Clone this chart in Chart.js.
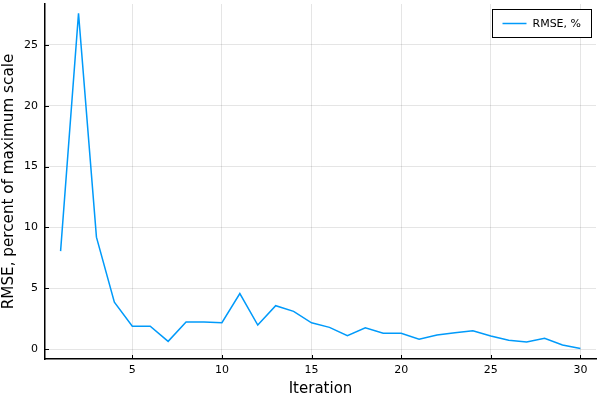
<!DOCTYPE html>
<html>
<head>
<meta charset="utf-8">
<script src="https://cdn.jsdelivr.net/npm/chart.js@4"></script>
<style>
  html, body { margin: 0; padding: 0; background: #fff; }
  #wrap { width: 600px; height: 400px; }
</style>
</head>
<body>
<div id="wrap"><canvas id="rmseChart" width="600" height="400"></canvas></div>
<script>
const iterations = [1, 2, 3, 4, 5, 6, 7, 8, 9, 10, 11, 12, 13, 14, 15,
  16, 17, 18, 19, 20, 21, 22, 23, 24, 25, 26, 27, 28, 29, 30];
const rmse = [8.05, 27.6, 9.2, 3.85, 1.88, 1.88, 0.63, 2.22, 2.22, 2.17, 4.56, 1.97, 3.56, 3.1, 2.16,
  1.78, 1.09, 1.75, 1.29, 1.29, 0.8, 1.15, 1.34, 1.51, 1.07, 0.72, 0.58, 0.88, 0.33, 0.05];
const xTicks = [5, 10, 15, 20, 25, 30];
const yTicks = [0, 5, 10, 15, 20, 25];
const seriesLabel = 'RMSE, %';

const FONT = 'DejaVu Sans';

// legend with a framed box, like the original
const boxLegend = {
  id: 'boxLegend',
  afterDraw(chart) {
    const ctx = chart.ctx;
    const ds = chart.data.datasets[0];
    const x = 492.5, y = 9.5, w = 99, h = 28;
    ctx.save();
    ctx.fillStyle = '#fff';
    ctx.fillRect(x, y, w, h);
    ctx.strokeStyle = '#000';
    ctx.lineWidth = 1;
    ctx.strokeRect(x, y, w, h);
    ctx.strokeStyle = ds.borderColor;
    ctx.lineWidth = 1.5;
    ctx.beginPath();
    ctx.moveTo(x + 10, y + h / 2);
    ctx.lineTo(x + 34, y + h / 2);
    ctx.stroke();
    ctx.fillStyle = '#000';
    ctx.font = '11px ' + FONT;
    ctx.textBaseline = 'middle';
    ctx.fillText(ds.label, x + 40, y + h / 2 + 0.5);
    ctx.restore();
  }
};

// small inward tick marks on the two axes
const innerTicks = {
  id: 'innerTicks',
  afterDatasetsDraw(chart) {
    const { ctx, chartArea, scales } = chart;
    ctx.save();
    ctx.strokeStyle = '#000';
    ctx.lineWidth = 1;
    ctx.beginPath();
    yTicks.forEach(v => {
      const py = Math.round(scales.y.getPixelForValue(v)) + 0.5;
      ctx.moveTo(chartArea.left, py);
      ctx.lineTo(chartArea.left + 4, py);
    });
    xTicks.forEach(v => {
      const px = Math.round(scales.x.getPixelForValue(v)) + 0.5;
      ctx.moveTo(px, chartArea.bottom);
      ctx.lineTo(px, chartArea.bottom - 4);
    });
    ctx.stroke();
    ctx.restore();
  }
};

new Chart(document.getElementById('rmseChart'), {
  type: 'line',
  data: {
    datasets: [{
      label: seriesLabel,
      data: iterations.map((it, i) => ({ x: it, y: rmse[i] })),
      borderColor: '#009AFA',
      borderWidth: 1.5,
      pointRadius: 0,
      fill: false,
      tension: 0
    }]
  },
  options: {
    responsive: false,
    animation: false,
    layout: { padding: { top: 4, right: 4, left: 0, bottom: 2 } },
    plugins: {
      legend: { display: false },
      tooltip: { enabled: false }
    },
    scales: {
      x: {
        type: 'linear',
        min: 0.13,
        max: 30.87,
        afterBuildTicks: scale => { scale.ticks = xTicks.map(v => ({ value: v })); },
        afterFit: scale => {
          scale.height = 39;
          scale.paddingLeft = 0;
          scale.paddingRight = 0;
        },
        grid: { color: 'rgba(0,0,0,0.1)', drawTicks: false },
        border: { color: '#000', width: 1.5 },
        ticks: { color: '#000', font: { family: FONT, size: 11 }, padding: 5, maxRotation: 0 },
        title: { display: true, text: 'Iteration', color: '#000', font: { family: FONT, size: 15 }, padding: 0 }
      },
      y: {
        min: -0.82,
        max: 28.37,
        afterBuildTicks: scale => { scale.ticks = yTicks.map(v => ({ value: v })); },
        afterFit: scale => {
          scale.width = 45;
          scale.paddingTop = 0;
          scale.paddingBottom = 0;
        },
        grid: { color: 'rgba(0,0,0,0.1)', drawTicks: false },
        border: { color: '#000', width: 1.5 },
        ticks: { color: '#000', font: { family: FONT, size: 11 }, padding: 7 },
        title: { display: true, text: 'RMSE, percent of maximum scale', color: '#000', font: { family: FONT, size: 15.2 }, padding: { top: 0, bottom: 0 } }
      }
    }
  },
  plugins: [boxLegend, innerTicks]
});
</script>
</body>
</html>
